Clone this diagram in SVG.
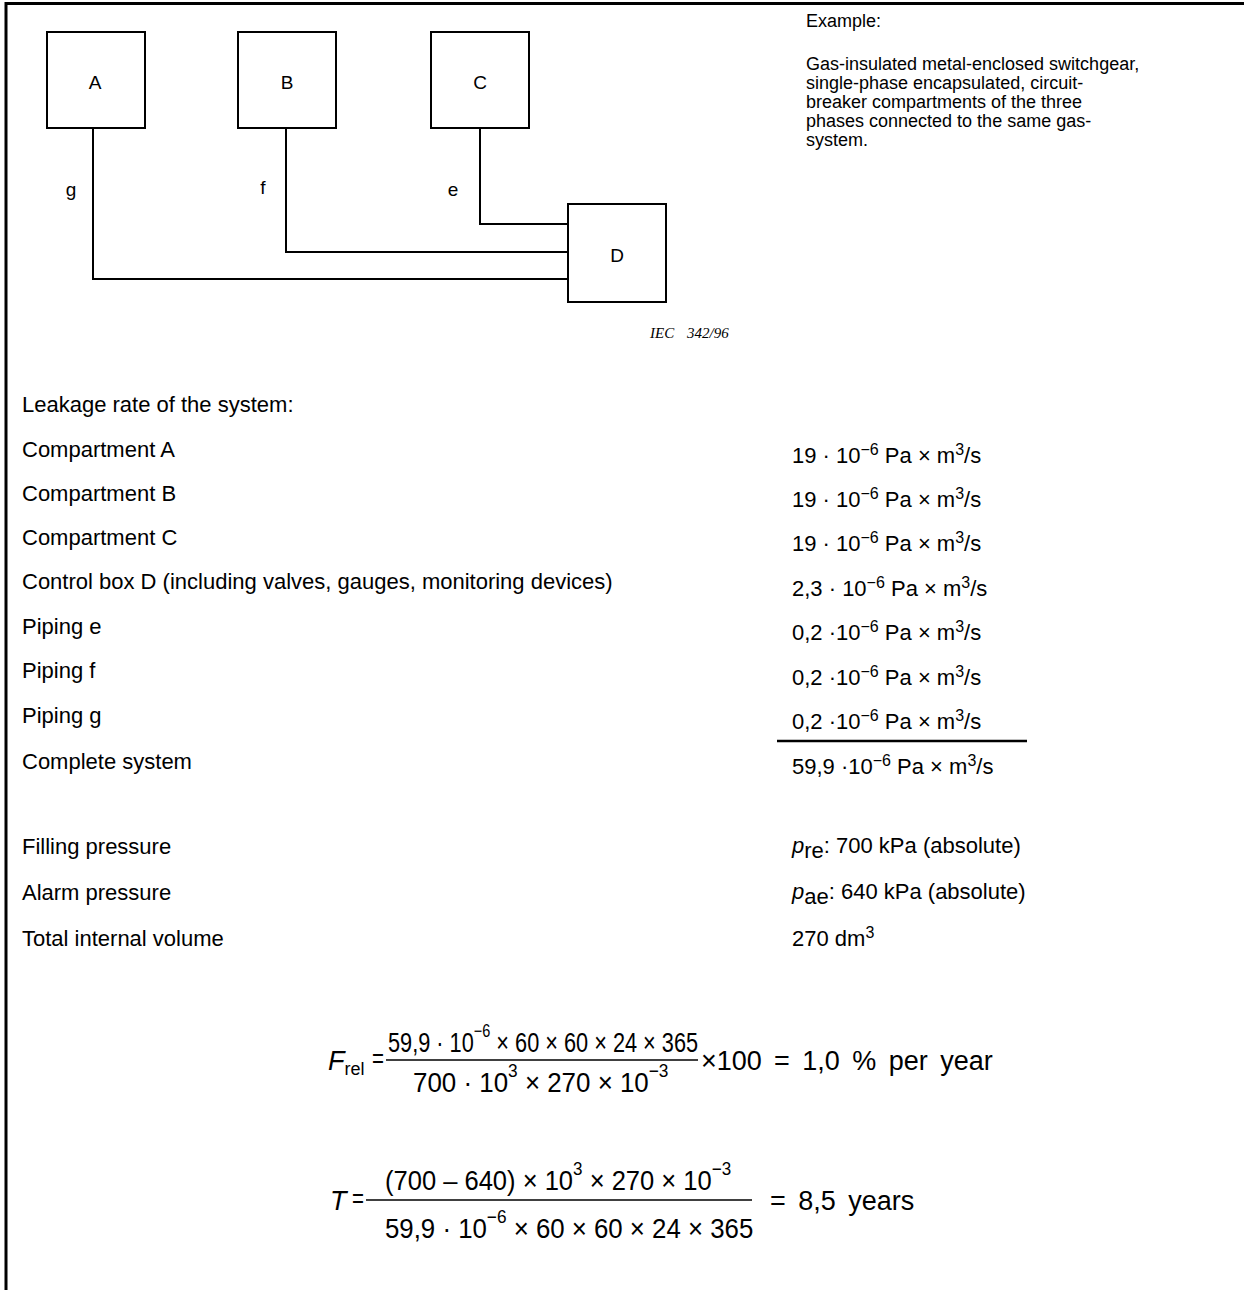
<svg xmlns="http://www.w3.org/2000/svg" width="1244" height="1290" viewBox="0 0 1244 1290">
<style>
.t{font-family:"Liberation Sans",Arial,sans-serif;font-size:22px;fill:#000}
.p{font-family:"Liberation Sans",Arial,sans-serif;font-size:18px;fill:#000}
.lbl{font-family:"Liberation Sans",Arial,sans-serif;font-size:19px;fill:#000;text-anchor:middle}
.box{fill:#fff;stroke:#000;stroke-width:2}
.pipe{fill:none;stroke:#000;stroke-width:2}
.f{font-family:"Liberation Sans",Arial,sans-serif;font-size:27px;fill:#000}
.sup{font-size:16px}
.fs{font-size:18px}
.bar{stroke:#000;stroke-width:1.5}
</style>
<rect width="1244" height="1290" fill="#fff"/>
<path d="M6,1290 V3.5 H1244" fill="none" stroke="#000" stroke-width="3"/>
<g id="connectors">
<path class="pipe" d="M93,128 V279 H568"/>
<path class="pipe" d="M286,128 V252 H568"/>
<path class="pipe" d="M480,128 V224 H568"/>
<text class="lbl" x="71" y="196">g</text>
<text class="lbl" x="263" y="194">f</text>
<text class="lbl" x="453" y="196">e</text>
</g>
<g id="A"><rect class="box" x="47" y="32" width="98" height="96"/><text class="lbl" x="95" y="89">A</text></g>
<g id="B"><rect class="box" x="238" y="32" width="98" height="96"/><text class="lbl" x="287" y="89">B</text></g>
<g id="C"><rect class="box" x="431" y="32" width="98" height="96"/><text class="lbl" x="480" y="89">C</text></g>
<g id="D"><rect class="box" x="568" y="204" width="98" height="98"/><text class="lbl" x="617" y="262">D</text></g>
<text y="338" font-family="Liberation Serif,serif" font-style="italic" font-size="15"><tspan x="650">IEC</tspan><tspan x="687">342/96</tspan></text>

<text class="p" x="806" y="27">Example:</text>
<text class="p" x="806" y="70">Gas-insulated metal-enclosed switchgear,</text>
<text class="p" x="806" y="89">single-phase encapsulated, circuit-</text>
<text class="p" x="806" y="108">breaker compartments of the three</text>
<text class="p" x="806" y="127">phases connected to the same gas-</text>
<text class="p" x="806" y="146">system.</text>

<text class="t" x="22" y="412">Leakage rate of the system:</text>
<text class="t" x="22" y="457">Compartment A</text>
<text class="t" x="22" y="501">Compartment B</text>
<text class="t" x="22" y="545">Compartment C</text>
<text class="t" x="22" y="589">Control box D (including valves, gauges, monitoring devices)</text>
<text class="t" x="22" y="634">Piping e</text>
<text class="t" x="22" y="678">Piping f</text>
<text class="t" x="22" y="723">Piping g</text>
<text class="t" x="22" y="769">Complete system</text>

<text class="t" x="792" y="463">19 · 10<tspan class="sup" dy="-8">−6</tspan><tspan dy="8"> Pa × m</tspan><tspan class="sup" dy="-8">3</tspan><tspan dy="8">/s</tspan></text>
<text class="t" x="792" y="507">19 · 10<tspan class="sup" dy="-8">−6</tspan><tspan dy="8"> Pa × m</tspan><tspan class="sup" dy="-8">3</tspan><tspan dy="8">/s</tspan></text>
<text class="t" x="792" y="551">19 · 10<tspan class="sup" dy="-8">−6</tspan><tspan dy="8"> Pa × m</tspan><tspan class="sup" dy="-8">3</tspan><tspan dy="8">/s</tspan></text>
<text class="t" x="792" y="596">2,3 · 10<tspan class="sup" dy="-8">−6</tspan><tspan dy="8"> Pa × m</tspan><tspan class="sup" dy="-8">3</tspan><tspan dy="8">/s</tspan></text>
<text class="t" x="792" y="640">0,2 ·10<tspan class="sup" dy="-8">−6</tspan><tspan dy="8"> Pa × m</tspan><tspan class="sup" dy="-8">3</tspan><tspan dy="8">/s</tspan></text>
<text class="t" x="792" y="685">0,2 ·10<tspan class="sup" dy="-8">−6</tspan><tspan dy="8"> Pa × m</tspan><tspan class="sup" dy="-8">3</tspan><tspan dy="8">/s</tspan></text>
<text class="t" x="792" y="729">0,2 ·10<tspan class="sup" dy="-8">−6</tspan><tspan dy="8"> Pa × m</tspan><tspan class="sup" dy="-8">3</tspan><tspan dy="8">/s</tspan></text>
<line x1="777" y1="741" x2="1027" y2="741" stroke="#000" stroke-width="2.5"/>
<text class="t" x="792" y="774">59,9 ·10<tspan class="sup" dy="-8">−6</tspan><tspan dy="8"> Pa × m</tspan><tspan class="sup" dy="-8">3</tspan><tspan dy="8">/s</tspan></text>

<text class="t" x="22" y="854">Filling pressure</text>
<text class="t" x="22" y="900">Alarm pressure</text>
<text class="t" x="22" y="946">Total internal volume</text>
<text class="t" x="792" y="853"><tspan font-style="italic">p</tspan><tspan dy="5">re</tspan><tspan dy="-5">: 700 kPa (absolute)</tspan></text>
<text class="t" x="792" y="899"><tspan font-style="italic">p</tspan><tspan dy="5">ae</tspan><tspan dy="-5">: 640 kPa (absolute)</tspan></text>
<text class="t" x="792" y="946">270 dm<tspan class="sup" dy="-8">3</tspan></text>

<g id="frel">
<text class="f" x="328" y="1070"><tspan font-style="italic">F</tspan><tspan class="fs" dy="5">rel</tspan></text>
<text class="f" transform="translate(372,1068) scale(0.76,1)">=</text>
<line class="bar" x1="386" y1="1060" x2="698" y2="1060"/>
<text class="f" transform="translate(388,1052) scale(0.805,1)">59,9 · 10<tspan class="fs" dy="-15">−6</tspan><tspan dy="15"> × 60 × 60 × 24 × 365</tspan></text>
<text class="f" transform="translate(413,1092) scale(0.96,1)">700 · 10<tspan class="fs" dy="-15">3</tspan><tspan dy="15"> × 270 × 10</tspan><tspan class="fs" dy="-15">−3</tspan></text>
<text class="f" x="701" y="1070">×100</text>
<text class="f" x="774" y="1070" font-size="29" word-spacing="5">= 1,0 % per year</text>
</g>
<g id="T">
<text class="f" x="330" y="1210"><tspan font-style="italic">T</tspan></text>
<text class="f" transform="translate(352,1208) scale(0.76,1)">=</text>
<line class="bar" x1="366" y1="1200" x2="752" y2="1200"/>
<text class="f" transform="translate(385,1190) scale(0.946,1)">(700 – 640) × 10<tspan class="fs" dy="-15">3</tspan><tspan dy="15"> × 270 × 10</tspan><tspan class="fs" dy="-15">−3</tspan></text>
<text class="f" transform="translate(385,1238) scale(0.956,1)">59,9 · 10<tspan class="fs" dy="-15">−6</tspan><tspan dy="15"> × 60 × 60 × 24 × 365</tspan></text>
<text class="f" x="770" y="1210" font-size="29" word-spacing="5">= 8,5 years</text>
</g>
</svg>
